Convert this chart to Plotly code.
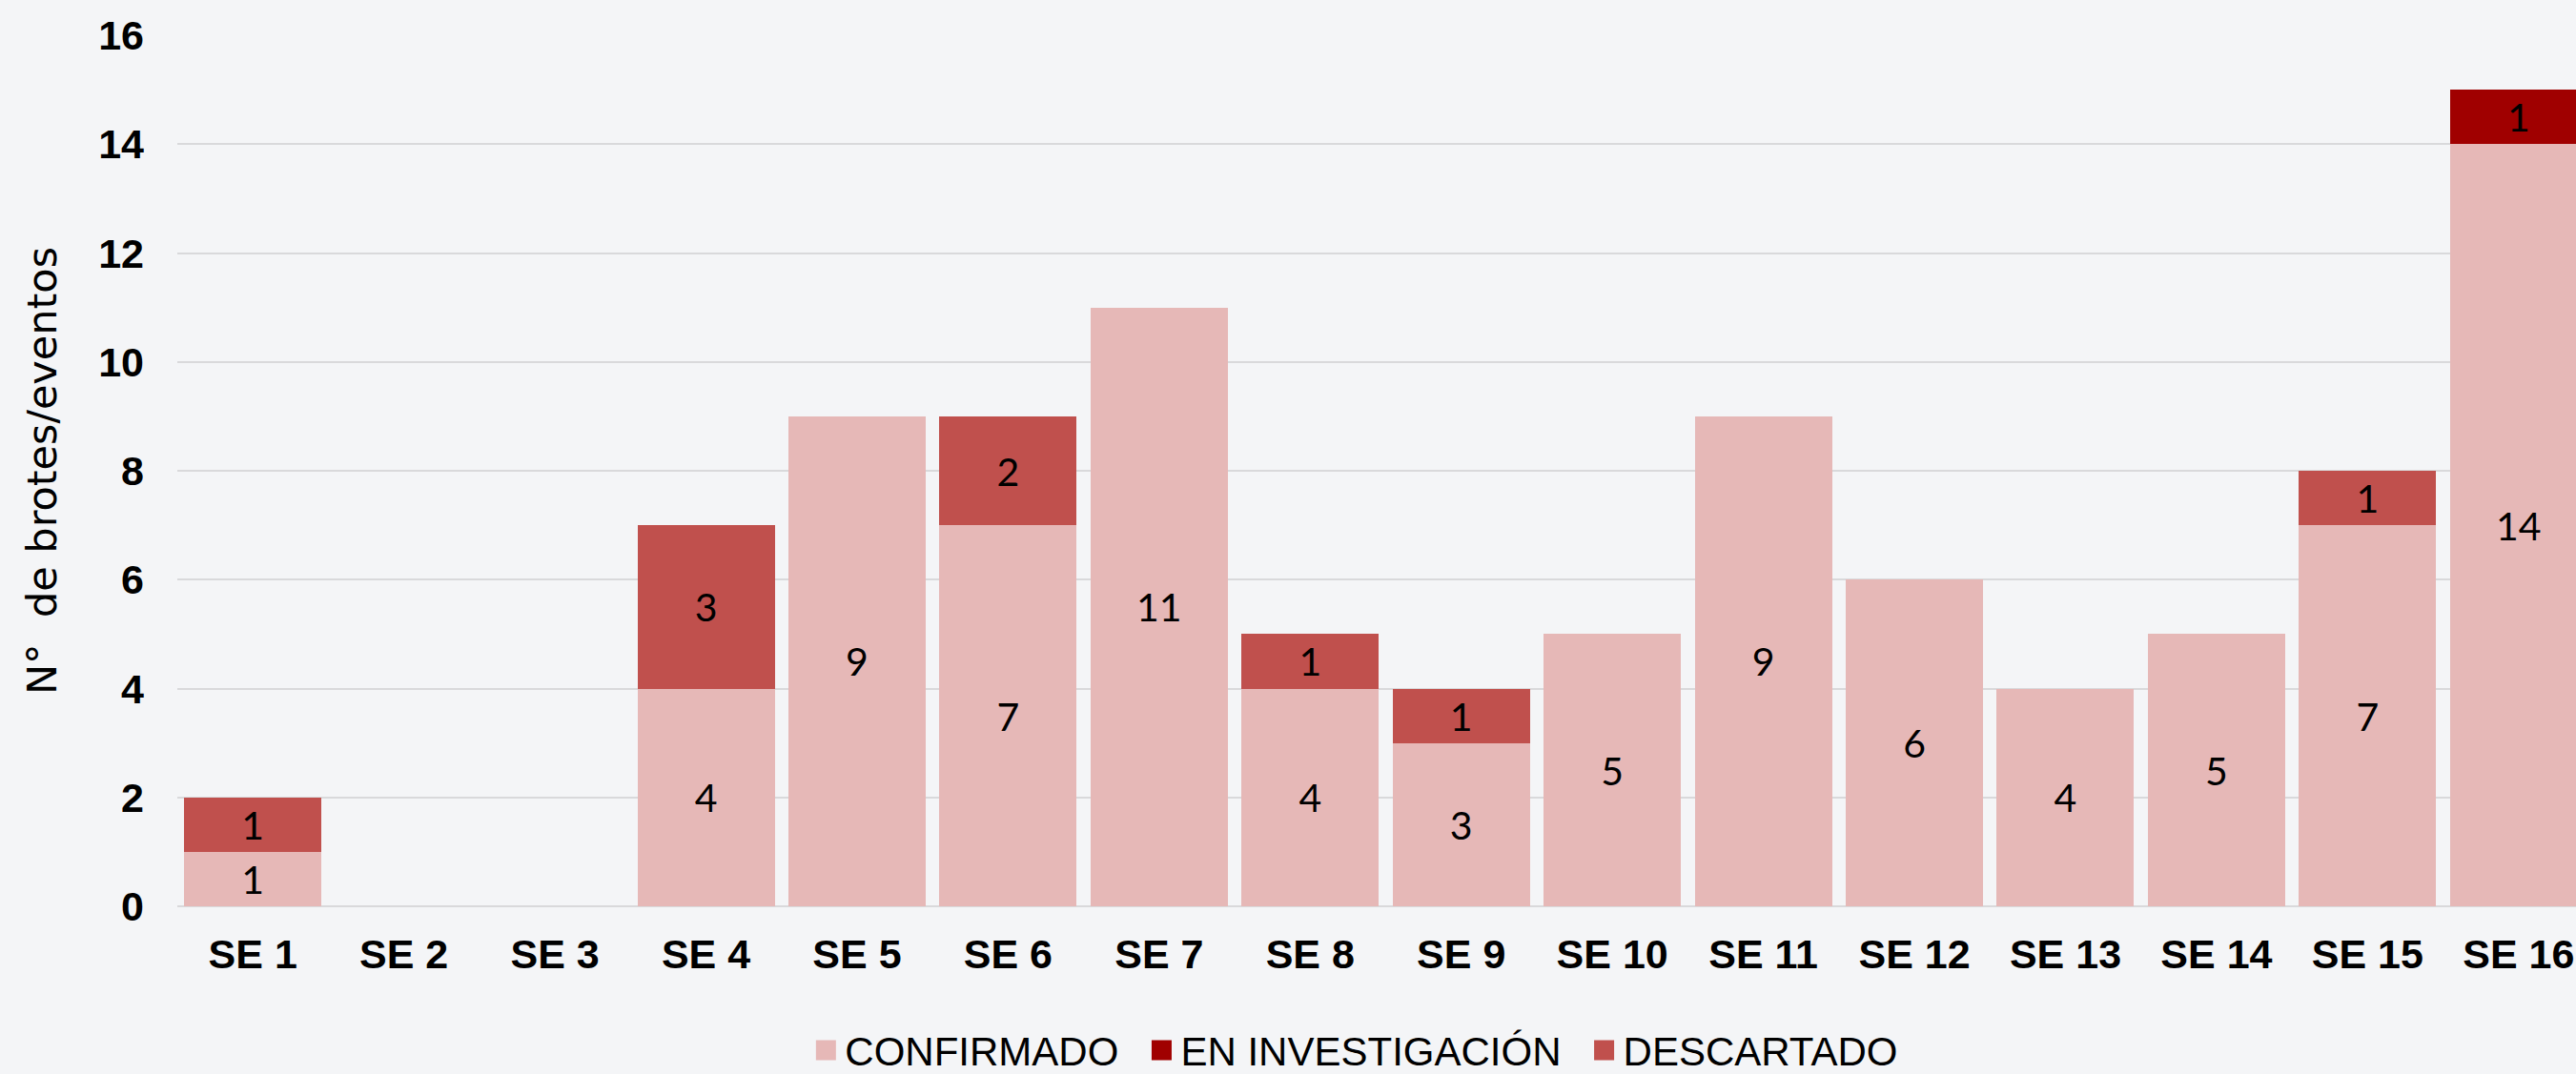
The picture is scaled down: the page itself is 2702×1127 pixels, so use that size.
import plotly.graph_objects as go

categories = ["SE 1", "SE 2", "SE 3", "SE 4", "SE 5", "SE 6", "SE 7", "SE 8",
              "SE 9", "SE 10", "SE 11", "SE 12", "SE 13", "SE 14", "SE 15", "SE 16"]
confirmado = [1, 0, 0, 4, 9, 7, 11, 4, 3, 5, 9, 6, 4, 5, 7, 14]
en_investigacion = [0, 0, 0, 0, 0, 0, 0, 0, 0, 0, 0, 0, 0, 0, 0, 1]
descartado = [1, 0, 0, 3, 0, 2, 0, 1, 1, 0, 0, 0, 0, 0, 1, 0]
y_ticks = [0, 2, 4, 6, 8, 10, 12, 14, 16]

series = [
    ("CONFIRMADO", confirmado, "#E6B8B7"),
    ("EN INVESTIGACIÓN", en_investigacion, "#A00000"),
    ("DESCARTADO", descartado, "#C0504D"),
]

fig = go.Figure()
for name, vals, color in series:
    fig.add_trace(go.Bar(
        x=categories, y=vals, name=name,
        marker=dict(color=color, line=dict(width=0)),
        text=[str(v) if v else "" for v in vals],
        textposition="inside", insidetextanchor="middle",
        textfont=dict(family="Lato", size=41, color="black"),
        constraintext="none", showlegend=False,
    ))
# legend proxies (larger square swatches)
for i, (name, vals, color) in enumerate(series):
    pad = "\u00a0\u2009" if i < len(series) - 1 else ""
    fig.add_trace(go.Scatter(
        x=[None], y=[None], mode="markers", name=name + pad,
        marker=dict(symbol="square", size=16, color=color,
                    line=dict(color=color, width=5)),
    ))

fig.update_layout(
    barmode="stack", bargap=0.091,
    width=2702, height=1127,
    paper_bgcolor="#F4F5F7", plot_bgcolor="#F4F5F7",
    margin=dict(l=186, r=0, t=37, b=176),
    font=dict(family="Liberation Sans, Arial", color="black"),
    legend=dict(orientation="h", xref="paper", x=0.491, xanchor="center",
                yref="container", y=0.022, yanchor="middle",
                font=dict(family="Liberation Sans, Arial", size=42, color="black"),
                traceorder="normal", bgcolor="rgba(0,0,0,0)"),
    showlegend=True,
)
fig.update_xaxes(
    range=[-0.5, 15.38], showgrid=False, showline=False, zeroline=False,
    tickfont=dict(family="Liberation Sans, Arial", size=43, color="black", weight="bold"),
    ticklabelstandoff=21, fixedrange=True,
)
fig.update_yaxes(
    range=[0, 16], tickvals=y_ticks, showgrid=True, gridcolor="#D9D9DB", gridwidth=2,
    zeroline=True, zerolinecolor="#D9D9DB", zerolinewidth=2,
    tickfont=dict(family="Liberation Sans, Arial", size=43, color="black", weight="bold"),
    ticklabelstandoff=34,
    title=dict(text="N°  de brotes/eventos", standoff=30,
               font=dict(family="DejaVu Sans", size=43, color="black")),
)

fig.write_html("out.html", config={"displayModeBar": False},
               post_script="document.body.style.margin='0';")
